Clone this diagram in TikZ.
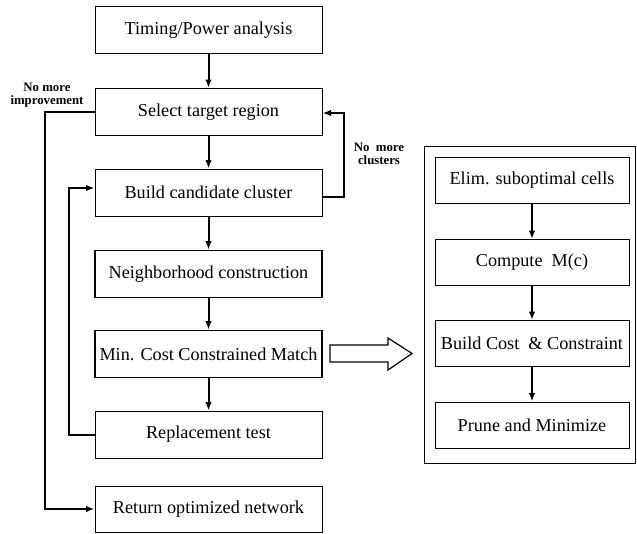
\documentclass[tikz,border=0pt]{standalone}
\usepackage{fontspec}
\setmainfont{Liberation Serif}
\usetikzlibrary{arrows.meta}
\begin{document}
\begin{tikzpicture}[x=1pt,y=-1pt,
  box/.style={draw, line width=1pt, minimum width=227pt, minimum height=47pt, inner sep=0pt, font=\fontsize{18.2}{20}\selectfont},
  boldbox/.style={box, line width=1.7pt},
  rbox/.style={draw, line width=1pt, minimum width=194pt, minimum height=46pt, inner sep=0pt, font=\fontsize{18.2}{20}\selectfont},
  conn/.style={line width=2pt, -{Latex[length=8.5pt,width=6.5pt]}},
  lbl/.style={font=\fontsize{12.8}{13}\selectfont\bfseries, align=center, inner sep=0pt},
  hollow/.style={draw, line width=1.2pt}]
\useasboundingbox (0,0) rectangle (637,533);
% main column
\node[box] (t) at (208.5,30) {Timing/Power analysis};
\node[box] (s) at (208.5,112) {Select target region};
\node[box] (b) at (208.5,192.5) {Build candidate cluster};
\node[boldbox] (n) at (208.5,274) {Neighborhood construction};
\node[boldbox] (m) at (208.5,354) {Min. Cost Constrained Match};
\node[box] (r) at (208.5,434.5) {Replacement test};
\node[box, minimum height=46pt] (o) at (208.5,509) {Return optimized network};
\draw[conn] (t) -- (s);
\draw[conn] (s) -- (b);
\draw[conn] (b) -- (n);
\draw[conn] (n) -- (m);
\draw[conn] (m) -- (r);
% feedback from replacement test
\coordinate (c1) at (69,434.5);
\coordinate (c2) at (69,188);
\draw[conn] (r.west) -- (c1) -- (c2) -- (b.west |- c2);
% no more clusters
\coordinate (c3) at ([yshift=-4.5pt]b.east);
\coordinate (c4) at (344,197);
\coordinate (c5) at (344,113);
\draw[conn] (c3) -- (c4) -- (c5) -- (s.east |- c5);
% no more improvement
\coordinate (c6) at (45,112);
\coordinate (c7) at (45,509);
\draw[conn] (s.west) -- (c6) -- (c7) -- (o.west);
\node[lbl] (l1) at (47,95.5) {No more\\improvement};
\node[lbl] (l2) at (379,154) {No~~more\\clusters};
% right panel
\node[draw, line width=0.9pt, minimum width=211pt, minimum height=317pt, inner sep=0pt] (panel) at (529.75,304.5) {};
\node[rbox] (e) at (532,180.5) {Elim. suboptimal cells};
\node[rbox] (c) at (532,262.5) {Compute~ M(c)};
\node[rbox] (bc) at (532,343.5) {Build Cost~ \& Constraint};
\node[rbox] (p) at (532,425) {Prune and Minimize};
\draw[conn] (e) -- (c);
\draw[conn] (c) -- (bc);
\draw[conn] (bc) -- (p);
% hollow arrow
\draw[hollow] (330,345) -- (388,345) -- (388,338) -- (412,353.5) -- (388,370) -- (388,362) -- (330,362) -- cycle;
\end{tikzpicture}
\end{document}
